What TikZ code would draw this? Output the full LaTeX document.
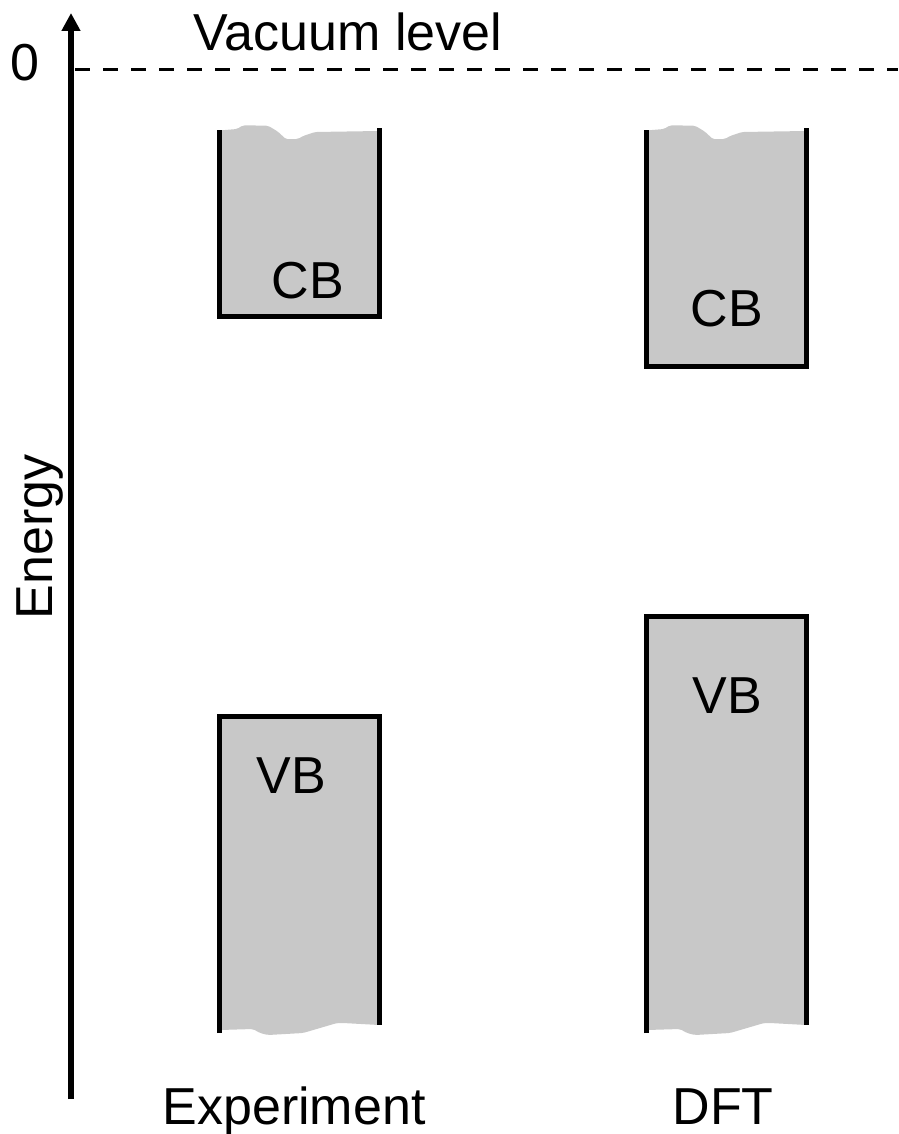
\documentclass[tikz,border=0pt]{standalone}
\usepackage{fontspec}
\setmainfont{Liberation Sans}
\usetikzlibrary{arrows.meta}
\definecolor{bandgrey}{RGB}{200,200,200}
\tikzset{
  edge/.style={line width=5pt, line join=miter},
  lbl/.style={font=\fontsize{52}{60}\selectfont, inner sep=0pt}
}
\begin{document}
\begin{tikzpicture}[x=1pt,y=-1pt]
\useasboundingbox (0,0) rectangle (898,1134);
% axis
\coordinate (axb) at (71,1099);
\coordinate (axt) at (71,13);
\draw[line width=5.5pt, -{Triangle[length=18pt,width=18pt]}] (axb) -- (axt);
\coordinate (vl) at (75,70);
\coordinate (vr) at (898,70);
\draw[line width=3pt, dash pattern=on 15pt off 13pt] (vl) -- (vr);
\node[lbl] (zero) at (25,63) {0};
\node[lbl] (vac) at (348,32) {Vacuum level};
\node[lbl, rotate=90, anchor=base] (energy) at (52,537) {Energy};
% bands
\foreach \dx/\cb/\vb in {0/316/716, 427/366/616}{
  \begin{scope}[xshift=\dx]
    \fill[bandgrey, rounded corners=2pt] (217,130.7) -- (237,129) -- (243,125.3) -- (268,125.7) -- (278,131.7) -- (286,139.3) -- (298,139) -- (303,136) -- (315,132) -- (379,131) -- (379,\cb) -- (220,\cb) -- cycle;
    \draw[edge] (219.5,130.5) -- (219.5,\cb) -- (379,\cb) -- (379,128);
    \fill[bandgrey, rounded corners=2pt] (219.5,\vb) -- (379,\vb) -- (379,1025) -- (343,1023) -- (337,1023) -- (320,1028) -- (303,1033) -- (268,1035) -- (260,1033) -- (253,1029) -- (220,1030) -- (217,1033) -- cycle;
    \draw[edge] (219.5,1033) -- (219.5,\vb) -- (379,\vb) -- (379,1025);
  \end{scope}
}
\node[lbl] (cbe) at (308,281) {CB};
\node[lbl] (cbd) at (727,309) {CB};
\node[lbl] (vbe) at (291,776) {VB};
\node[lbl] (vbd) at (727,696) {VB};
\node[lbl, anchor=base] (exp) at (294,1124) {Experiment};
\node[lbl, anchor=base] (dft) at (723,1124) {DFT};
\end{tikzpicture}
\end{document}
